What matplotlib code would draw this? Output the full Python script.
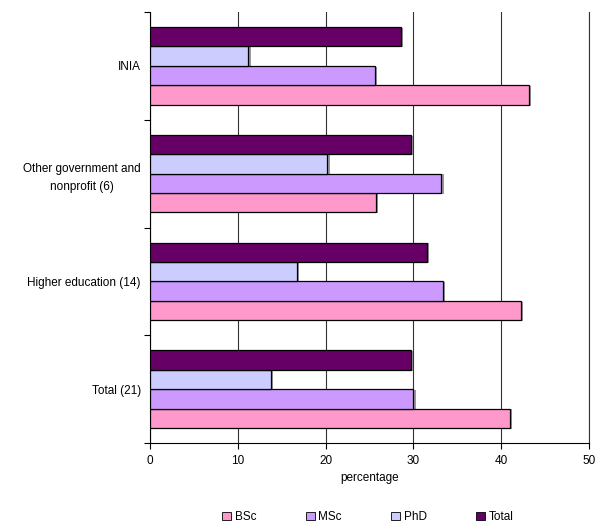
import matplotlib
matplotlib.use("Agg")
import matplotlib.pyplot as plt
import numpy as np
from matplotlib.patches import Patch

plt.rcParams['font.family'] = ['Liberation Sans', 'DejaVu Sans']

categories = ["Total (21)", "Higher education (14)", "Other government and\nnonprofit (6)", "INIA"]
series_names = ["BSc", "MSc", "PhD", "Total"]
bsc = [41.0, 42.2, 25.7, 43.2]
msc = [30.0, 33.4, 33.2, 25.6]
phd = [13.8, 16.7, 20.2, 11.2]
total = [29.7, 31.5, 29.7, 28.6]
colors = ["#FF99CC", "#CC99FF", "#CCCCFF", "#660066"]
xticks = [0, 10, 20, 30, 40, 50]

FS = 8.5
fig = plt.figure(figsize=(5.96, 5.23), dpi=100)
ax = fig.add_axes([150/596, 1-443/523, 439/596, 431/523])

y = np.arange(len(categories))
h = 0.18
offsets = [-1.5*h, -0.5*h, 0.5*h, 1.5*h]
for vals, off, c in zip([bsc, msc, phd, total], offsets, colors):
    ax.barh(y + off - 0.008, vals, height=h, left=0.25, color="#999999", edgecolor="none", zorder=2)
    ax.barh(y + off, vals, height=h, color=c, edgecolor="black", linewidth=0.9, zorder=3)

ax.set_xlim(0, 50)
ax.set_ylim(-0.5, 3.5)
ax.set_xticks(xticks)
ax.set_xticklabels([str(t) for t in xticks], fontsize=FS)
ax.set_yticks(y)
ax.set_yticklabels(categories, fontsize=FS, linespacing=1.6)
for lbl in ax.get_yticklabels():
    lbl.set_multialignment("center")
ax.tick_params(axis='y', which='major', length=0, pad=6.5)
ax.set_yticks(np.arange(-0.5, 3.6, 1.0), minor=True)
ax.tick_params(axis='y', which='minor', length=4, direction='out', width=0.8)
ax.tick_params(axis='x', length=4, direction='out', width=0.8, labelsize=FS, pad=5)
ax.xaxis.grid(True, color="#333333", linewidth=0.8, zorder=0)
ax.set_axisbelow(True)
ax.spines["top"].set_visible(False)
ax.spines["right"].set_color("#333333")
ax.spines["right"].set_linewidth(0.8)
ax.set_xlabel("percentage", fontsize=FS, labelpad=3)

handles = [Patch(facecolor=c, edgecolor="black", linewidth=0.6) for c in colors]
fig.legend(handles, series_names, loc="center", bbox_to_anchor=(368/596, 1-517/523), ncol=4,
           frameon=False, fontsize=FS, handlelength=0.75, handleheight=0.75,
           handletextpad=0.3, columnspacing=4.2)

fig.savefig("out.png", dpi=100)
